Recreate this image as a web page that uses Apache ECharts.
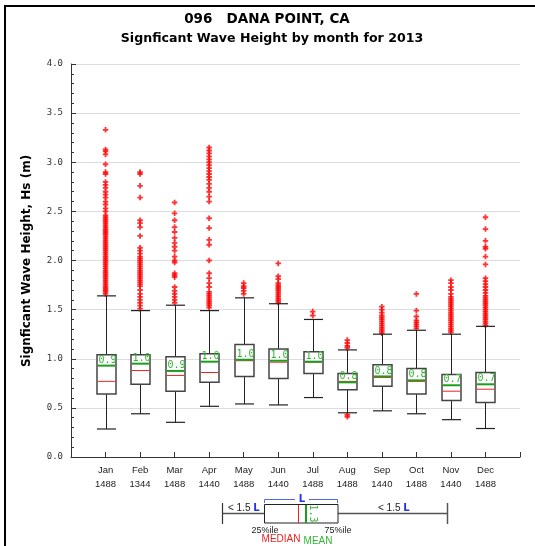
<!DOCTYPE html>
<html>
<head>
<meta charset="utf-8">
<script src="https://cdn.jsdelivr.net/npm/echarts/dist/echarts.min.js"></script>
<style>
html,body{margin:0;padding:0;background:#fff;}
#chart{width:535px;height:546px;}
</style>
</head>
<body>
<div id="chart"></div>
<script>
// ---- data ----
const months = ['Jan','Feb','Mar','Apr','May','Jun','Jul','Aug','Sep','Oct','Nov','Dec'];
const counts = ['1488','1344','1488','1440','1488','1440','1488','1488','1440','1488','1440','1488'];
const whiskerLow  = [0.285, 0.44, 0.353, 0.516, 0.54, 0.53, 0.605, 0.45, 0.47, 0.44, 0.38, 0.29];
const q1          = [0.64, 0.74, 0.67, 0.76, 0.82, 0.80, 0.85, 0.685, 0.72, 0.64, 0.575, 0.555];
const median      = [0.77, 0.88, 0.83, 0.86, 0.98, 0.965, 0.965, 0.77, 0.81, 0.77, 0.67, 0.69];
const q3          = [1.04, 1.04, 1.02, 1.05, 1.145, 1.10, 1.07, 0.85, 0.94, 0.90, 0.84, 0.86];
const whiskerHigh = [1.64, 1.49, 1.545, 1.49, 1.62, 1.56, 1.40, 1.09, 1.25, 1.29, 1.25, 1.33];
const mean        = [0.93, 0.95, 0.876, 0.97, 0.99, 0.98, 0.97, 0.76, 0.82, 0.78, 0.73, 0.74];
const meanLabels  = ['0.9','1.0','0.9','1.0','1.0','1.0','1.0','0.8','0.8','0.8','0.7','0.7'];
const outliers = [
  [3.33,3.13,3.11,3.08,2.98,2.90,2.88,2.80,2.77,2.74,2.70,2.67,2.64,2.60,2.57,2.53,2.50,2.46,2.44,2.42,2.40,2.38,2.36,2.34,2.32,2.30,2.28,2.26,2.24,2.22,2.20,2.18,2.16,2.14,2.12,2.10,2.08,2.06,2.04,2.02,2.00,1.98,1.96,1.94,1.92,1.90,1.88,1.86,1.84,1.82,1.80,1.78,1.76,1.74,1.72,1.70,1.68,1.66],
  [2.90,2.88,2.76,2.64,2.41,2.38,2.34,2.25,2.13,2.10,2.07,2.04,2.02,2.00,1.98,1.96,1.94,1.92,1.90,1.88,1.86,1.84,1.82,1.80,1.78,1.76,1.74,1.70,1.66,1.63,1.60,1.57,1.54,1.51],
  [2.59,2.48,2.41,2.34,2.29,2.23,2.18,2.14,2.10,2.04,2.00,1.98,1.87,1.85,1.83,1.73,1.69,1.66,1.63,1.60,1.57],
  [3.15,3.12,3.09,3.06,3.03,3.00,2.97,2.94,2.91,2.88,2.85,2.82,2.78,2.74,2.70,2.65,2.60,2.43,2.33,2.21,2.16,2.00,1.87,1.82,1.77,1.73,1.68,1.66,1.64,1.62,1.60,1.58,1.56,1.54,1.52],
  [1.77,1.74,1.72,1.69,1.66],
  [1.97,1.84,1.81,1.77,1.75,1.73,1.71,1.69,1.67,1.65,1.63,1.61,1.59,1.57],
  [1.48,1.44],
  [1.19,1.16,1.13,1.11,0.43,0.41],
  [1.53,1.50,1.47,1.44,1.42,1.40,1.38,1.36,1.34,1.32,1.30,1.28,1.26],
  [1.66,1.49,1.43,1.39,1.37,1.35,1.33,1.31],
  [1.80,1.77,1.73,1.70,1.66,1.63,1.61,1.59,1.57,1.55,1.53,1.51,1.49,1.47,1.45,1.43,1.41,1.39,1.37,1.35,1.33,1.31,1.29,1.27],
  [2.44,2.32,2.20,2.14,2.12,2.04,1.96,1.82,1.79,1.76,1.73,1.70,1.67,1.64,1.62,1.60,1.58,1.56,1.54,1.52,1.50,1.48,1.46,1.44,1.42,1.40,1.38,1.36,1.34]
];
const yTicks = [0, 0.5, 1, 1.5, 2, 2.5, 3, 3.5, 4];

// ---- build series data ----
const boxData = months.map((m, i) => [i + 1, whiskerLow[i], q1[i], median[i], q3[i], whiskerHigh[i], mean[i], i]);
const outlierData = [];
outliers.forEach((arr, i) => arr.forEach(v => outlierData.push([i + 1, v])));

const RED = '#ee2222';
const GREEN = '#1a9f1a';
const BLUE = '#2233ee';

function renderBox(params, api) {
  const x = api.value(0);
  const idx = api.value(7);
  const c = p => api.coord([x, p]);
  const pMin = c(api.value(1)), pQ1 = c(api.value(2)), pMed = c(api.value(3));
  const pQ3 = c(api.value(4)), pMax = c(api.value(5)), pMean = c(api.value(6));
  const bw = api.size([1, 0])[0];
  const half = bw * 0.275;
  const cx = Math.round(pMin[0]) + 0.5;
  const L = cx - half, R = cx + half;
  const line = (x1, y1, x2, y2, color, w) => ({
    type: 'line', shape: {x1, y1, x2, y2}, style: {stroke: color, lineWidth: w}
  });
  return {
    type: 'group',
    children: [
      line(cx, pMax[1], cx, pQ3[1], '#222', 1),
      line(cx, pQ1[1], cx, pMin[1], '#222', 1),
      line(L, pMax[1], R, pMax[1], '#222', 1.2),
      line(L, pMin[1], R, pMin[1], '#222', 1.2),
      {type: 'rect', shape: {x: L, y: pQ3[1], width: R - L, height: pQ1[1] - pQ3[1]},
        style: {fill: '#fff', stroke: '#444', lineWidth: 1.5}},
      line(L + 1, pMed[1], R - 1, pMed[1], RED, 1),
      line(L + 1, pMean[1], R - 1, pMean[1], GREEN, 2),
      {type: 'text', x: L + 1.5, y: pMean[1] - 0.5,
        style: {text: meanLabels[idx], fill: '#33b533', font: '10px "DejaVu Sans Mono"',
          textAlign: 'left', textVerticalAlign: 'bottom'}}
    ]
  };
}

const chart = echarts.init(document.getElementById('chart'), null, {renderer: 'canvas'});

const legendY = 513.5;
const graphics = [
  {type: 'rect', shape: {x: 5, y: 6, width: 800, height: 800}, style: {fill: 'none', stroke: '#000', lineWidth: 2}, z: 100},
  {type: 'text', x: 267, y: 19, style: {text: '096   DANA POINT, CA', font: 'bold 13.5px "DejaVu Sans"', fill: '#000', textAlign: 'center', textVerticalAlign: 'middle'}},
  {type: 'text', x: 272, y: 38.5, style: {text: 'Signficant Wave Height by month for 2013', font: 'bold 12.6px "DejaVu Sans"', fill: '#000', textAlign: 'center', textVerticalAlign: 'middle'}},
  {type: 'text', x: 27, y: 261, rotation: Math.PI / 2, style: {text: 'Signficant Wave Height, Hs (m)', font: 'bold 12px "DejaVu Sans"', fill: '#000', textAlign: 'center', textVerticalAlign: 'middle'}},
  // legend diagram
  {type: 'line', shape: {x1: 222.5, y1: legendY, x2: 264, y2: legendY}, style: {stroke: '#555', lineWidth: 1.5}},
  {type: 'line', shape: {x1: 338, y1: legendY, x2: 447.5, y2: legendY}, style: {stroke: '#555', lineWidth: 1.5}},
  {type: 'line', shape: {x1: 222.5, y1: 503, x2: 222.5, y2: 524}, style: {stroke: '#333', lineWidth: 1.2}},
  {type: 'line', shape: {x1: 447.5, y1: 503, x2: 447.5, y2: 524}, style: {stroke: '#555', lineWidth: 1.5}},
  {type: 'rect', shape: {x: 264.5, y: 504.5, width: 73.5, height: 18.5}, style: {fill: '#fff', stroke: '#222', lineWidth: 1}},
  {type: 'line', shape: {x1: 298.5, y1: 505, x2: 298.5, y2: 523}, style: {stroke: RED, lineWidth: 1}},
  {type: 'line', shape: {x1: 306, y1: 505, x2: 306, y2: 523}, style: {stroke: GREEN, lineWidth: 2}},
  {type: 'text', x: 313, y: 513.5, rotation: -Math.PI / 2, style: {text: '1.3', font: '10px "DejaVu Sans Mono"', fill: '#33b533', textAlign: 'center', textVerticalAlign: 'middle'}},
  {type: 'polyline', shape: {points: [[264.5, 503], [264.5, 499.5], [295, 499.5]]}, style: {stroke: '#5566ee', lineWidth: 1, fill: 'none'}},
  {type: 'polyline', shape: {points: [[309, 499.5], [337.5, 499.5], [337.5, 503]]}, style: {stroke: '#5566ee', lineWidth: 1, fill: 'none'}},
  {type: 'text', x: 302, y: 499.5, style: {text: 'L', font: 'bold 10px "DejaVu Sans"', fill: BLUE, textAlign: 'center', textVerticalAlign: 'middle'}},
  {type: 'text', x: 228, y: 508, style: {rich: {a: {font: '10px "Liberation Sans"', fill: '#222'}, b: {font: 'bold 10px "DejaVu Sans"', fill: BLUE}}, text: '{a|< 1.5 }{b|L}', textAlign: 'left', textVerticalAlign: 'middle'}},
  {type: 'text', x: 378, y: 508, style: {rich: {a: {font: '10px "Liberation Sans"', fill: '#222'}, b: {font: 'bold 10px "DejaVu Sans"', fill: BLUE}}, text: '{a|< 1.5 }{b|L}', textAlign: 'left', textVerticalAlign: 'middle'}},
  {type: 'text', x: 265, y: 531, style: {text: '25%ile', font: '9px "Liberation Sans"', fill: '#222', textAlign: 'center', textVerticalAlign: 'middle', letterSpacing: -0.3}},
  {type: 'text', x: 338, y: 531, style: {text: '75%ile', font: '9px "Liberation Sans"', fill: '#222', textAlign: 'center', textVerticalAlign: 'middle', letterSpacing: -0.3}},
  {type: 'text', x: 281, y: 539.5, style: {text: 'MEDIAN', font: '10px "Liberation Sans"', fill: RED, textAlign: 'center', textVerticalAlign: 'middle'}},
  {type: 'text', x: 318, y: 541, style: {text: 'MEAN', font: '10px "Liberation Sans"', fill: '#33b533', textAlign: 'center', textVerticalAlign: 'middle'}}
];

chart.setOption({
  animation: false,
  backgroundColor: '#fff',
  grid: {left: 71, right: 15, top: 64, bottom: 89, containLabel: false},
  xAxis: {
    type: 'value', min: 0, max: 13, interval: 1,
    axisLine: {lineStyle: {color: '#333', width: 1}},
    axisTick: {inside: true, length: 5, lineStyle: {color: '#333'}},
    splitLine: {show: false},
    axisLabel: {
      margin: 6, color: '#222', fontFamily: 'Liberation Sans', fontSize: 9.5, lineHeight: 14,
      formatter: v => (v >= 1 && v <= 12) ? months[v - 1] + '\n' + counts[v - 1] : ''
    }
  },
  yAxis: {
    type: 'value', min: yTicks[0], max: yTicks[yTicks.length - 1], interval: 0.5,
    axisLine: {show: true, lineStyle: {color: '#333', width: 1}},
    axisTick: {show: true, inside: true, length: 5, lineStyle: {color: '#333'}},
    minorTick: {show: true, splitNumber: 5, length: 3, lineStyle: {color: '#333'}},
    splitLine: {show: true, lineStyle: {color: '#dddddd', width: 1}},
    axisLabel: {margin: 8, color: '#333', fontFamily: 'DejaVu Sans Mono', fontSize: 9, formatter: v => v.toFixed(1)}
  },
  series: [
    {
      type: 'scatter', data: outlierData, z: 1,
      symbol: 'path://M2,0H4V2H6V4H4V6H2V4H0V2H2Z', symbolSize: 5.5,
      itemStyle: {color: '#ff0000'}
    },
    {
      type: 'custom', data: boxData, renderItem: renderBox, z: 3,
      encode: {x: 0, y: [1, 2, 3, 4, 5]}
    }
  ],
  graphic: graphics
});
</script>
</body>
</html>
